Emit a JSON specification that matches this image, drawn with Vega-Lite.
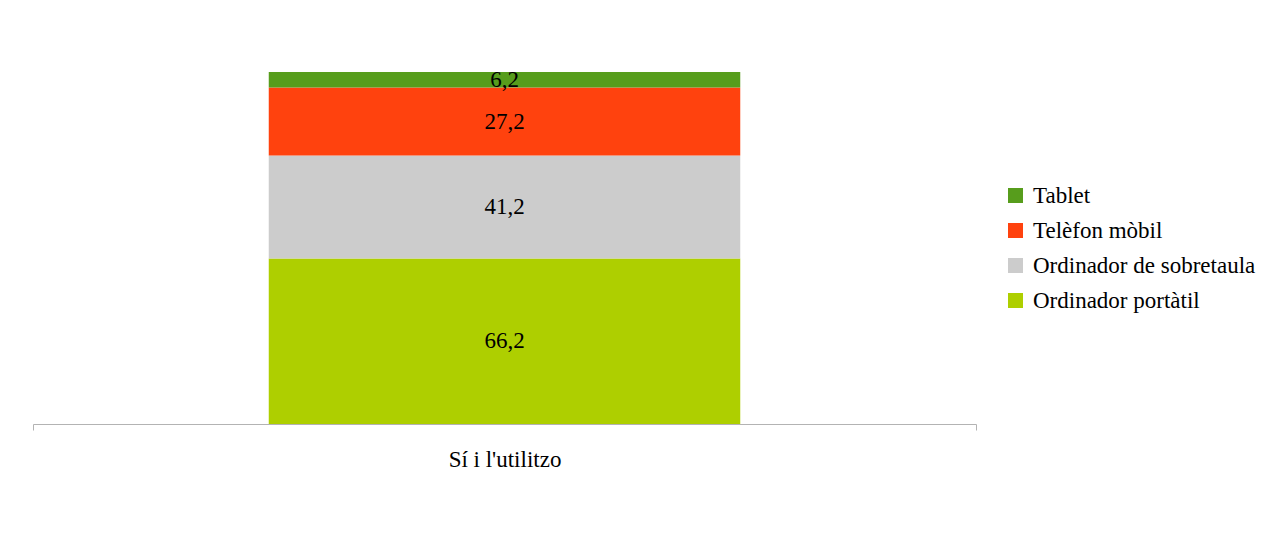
{
  "$schema": "https://vega.github.io/schema/vega-lite/v6.json",
  "width": 943,
  "height": 352,
  "autosize": {"type": "none"},
  "padding": {"left": 33, "top": 72, "right": 297, "bottom": 111},
  "background": "white",
  "config": {
    "view": {"stroke": null},
    "font": "Liberation Serif",
    "locale": {"number": {"decimal": ",", "thousands": ".", "grouping": [3], "currency": ["", " €"]}}
  },
  "data": {
    "values": [
      {"cat": "Sí i l'utilitzo", "device": "Ordinador portàtil", "value": 66.2, "ord": 1},
      {"cat": "Sí i l'utilitzo", "device": "Ordinador de sobretaula", "value": 41.2, "ord": 2},
      {"cat": "Sí i l'utilitzo", "device": "Telèfon mòbil", "value": 27.2, "ord": 3},
      {"cat": "Sí i l'utilitzo", "device": "Tablet", "value": 6.2, "ord": 4}
    ]
  },
  "encoding": {
    "x": {
      "field": "cat",
      "type": "nominal",
      "scale": {"paddingInner": 0, "paddingOuter": 0},
      "axis": {
        "title": null,
        "labelAngle": 0,
        "labelFontSize": 23,
        "labelColor": "black",
        "labelPadding": 18,
        "domainColor": "#b3b3b3",
        "tickColor": "#b3b3b3",
        "tickSize": 6,
        "tickBand": "extent"
      }
    },
    "order": {"field": "ord", "type": "quantitative"}
  },
  "layer": [
    {
      "mark": {"type": "bar", "width": {"band": 0.5}},
      "encoding": {
        "y": {"field": "value", "type": "quantitative", "stack": "zero", "scale": {"domain": [0, 140.8], "nice": false}, "axis": null},
        "color": {
          "field": "device",
          "type": "nominal",
          "sort": ["Tablet", "Telèfon mòbil", "Ordinador de sobretaula", "Ordinador portàtil"],
          "scale": {
            "domain": ["Tablet", "Telèfon mòbil", "Ordinador de sobretaula", "Ordinador portàtil"],
            "range": ["#579D1C", "#FF420E", "#CCCCCC", "#AECF00"]
          },
          "legend": {
            "title": null,
            "orient": "none",
            "legendX": 971,
            "legendY": 112,
            "padding": 0,
            "symbolType": "square",
            "symbolSize": 225,
            "symbolStrokeWidth": 0,
            "labelFontSize": 23,
            "labelColor": "black",
            "labelOffset": 6,
            "rowPadding": 11,
            "labelLimit": 400
          }
        }
      }
    },
    {
      "mark": {"type": "text", "fontSize": 23, "color": "black"},
      "encoding": {
        "y": {"field": "value", "type": "quantitative", "stack": "zero", "bandPosition": 0.5},
        "text": {"field": "value", "type": "quantitative", "format": ".1f"}
      }
    }
  ]
}
